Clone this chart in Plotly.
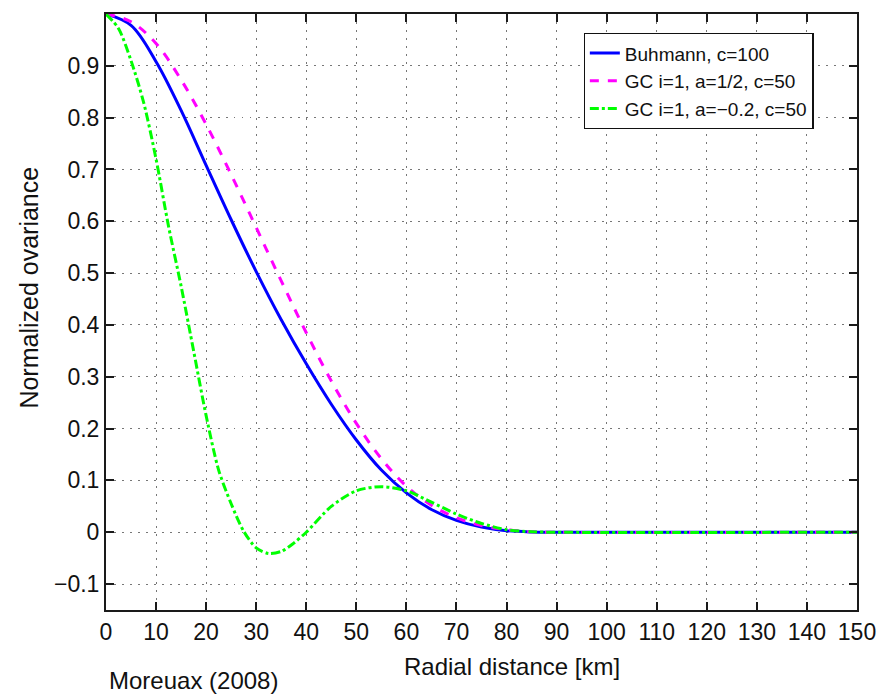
import plotly.graph_objects as go

# Radial distance grid points [km]
x_buh = [0, 5, 10, 15, 20, 25, 30, 35, 40, 45, 50, 55, 60, 65, 70, 75, 80, 85, 90, 150]
y_buh = [1.0, 0.978, 0.908, 0.814, 0.708, 0.603, 0.503, 0.410, 0.325, 0.247, 0.178, 0.120, 0.076,
         0.044, 0.023, 0.010, 0.003, 0.0005, 0.0, 0.0]

x_gc1 = [0, 5, 10, 15, 20, 25, 30, 35, 40, 45, 50, 55, 60, 65, 70, 75, 80, 85, 90, 150]
y_gc1 = [1.0, 0.985, 0.943, 0.873, 0.787, 0.69, 0.588, 0.485, 0.385, 0.292, 0.21, 0.142, 0.089,
         0.052, 0.028, 0.013, 0.005, 0.001, 0.0, 0.0]

x_gc2 = [0, 2.5, 5, 7.5, 10, 12.5, 15, 17.5, 20, 22.5, 25, 27.5, 30, 32.5, 35, 37.5, 40, 45, 50,
         55, 60, 65, 70, 75, 80, 85, 90, 150]
y_gc2 = [1.0, 0.972, 0.91, 0.83, 0.72, 0.59, 0.475, 0.35, 0.225, 0.12, 0.055, 0.002, -0.03,
         -0.041, -0.037, -0.021, 0.0, 0.05, 0.08, 0.088, 0.08, 0.058, 0.035, 0.017, 0.005,
         0.001, 0.0, 0.0]

x_ticks = list(range(0, 151, 10))
y_ticks = [-0.1, 0, 0.1, 0.2, 0.3, 0.4, 0.5, 0.6, 0.7, 0.8, 0.9]
y_tick_text = ["\u22120.1", "0", "0.1", "0.2", "0.3", "0.4", "0.5", "0.6", "0.7", "0.8", "0.9"]

FONT = "Liberation Sans, Arial, Helvetica, sans-serif"

fig = go.Figure()
fig.add_trace(go.Scatter(x=x_buh, y=y_buh, mode="lines", name="Buhmann, c=100",
                         line=dict(color="#0000ff", width=3, shape="spline", smoothing=1.0)))
fig.add_trace(go.Scatter(x=x_gc1, y=y_gc1, mode="lines", name="GC i=1, a=1/2, c=50",
                         line=dict(color="#ff00ff", width=3, dash="dash", shape="spline", smoothing=1.0)))
fig.add_trace(go.Scatter(x=x_gc2, y=y_gc2, mode="lines", name="GC i=1, a=\u22120.2, c=50",
                         line=dict(color="#00ff00", width=3, dash="dashdot", shape="spline", smoothing=0.8)))

axis_common = dict(
    showline=True, linecolor="#1a1a1a", linewidth=2, mirror="ticks",
    ticks="inside", ticklen=8, tickcolor="#1a1a1a", tickwidth=1.5,
    showgrid=True, gridcolor="#777", griddash="1.5px,6.5px", gridwidth=1,
    zeroline=False, tickfont=dict(family=FONT, size=23, color="#111"),
)

fig.update_xaxes(range=[0, 150], tickvals=x_ticks, **axis_common)
fig.update_yaxes(range=[-0.15, 1.0], tickvals=y_ticks, ticktext=y_tick_text, **axis_common)

fig.update_layout(
    width=888, height=695,
    margin=dict(l=106, r=25, t=14, b=85),
    plot_bgcolor="white", paper_bgcolor="white",
    font=dict(family=FONT, size=19, color="#111"),
    legend=dict(x=0.636, y=0.968, xanchor="left", yanchor="top",
                bordercolor="#111", borderwidth=1.2, bgcolor="white",
                font=dict(family=FONT, size=19, color="#111"),
                tracegroupgap=0, itemwidth=30),
    annotations=[
        dict(text="Radial distance [km]", xref="paper", yref="paper", x=(515 - 106) / 757, y=(610 - 667) / 596,
             xanchor="center", yanchor="middle", showarrow=False, font=dict(family=FONT, size=24, color="#111")),
        dict(text="Normalized ovariance", xref="paper", yref="paper", x=(28 - 106) / 757, y=(610 - 288) / 596,
             xanchor="center", yanchor="middle", textangle=-90, showarrow=False,
             font=dict(family=FONT, size=25, color="#111")),
        dict(text="Moreuax (2008)", xref="paper", yref="paper", x=(107 - 106) / 757, y=(610 - 680) / 596,
             xanchor="left", yanchor="middle", showarrow=False, font=dict(family=FONT, size=24, color="#111")),
    ],
)

fig.write_html("out.html")
